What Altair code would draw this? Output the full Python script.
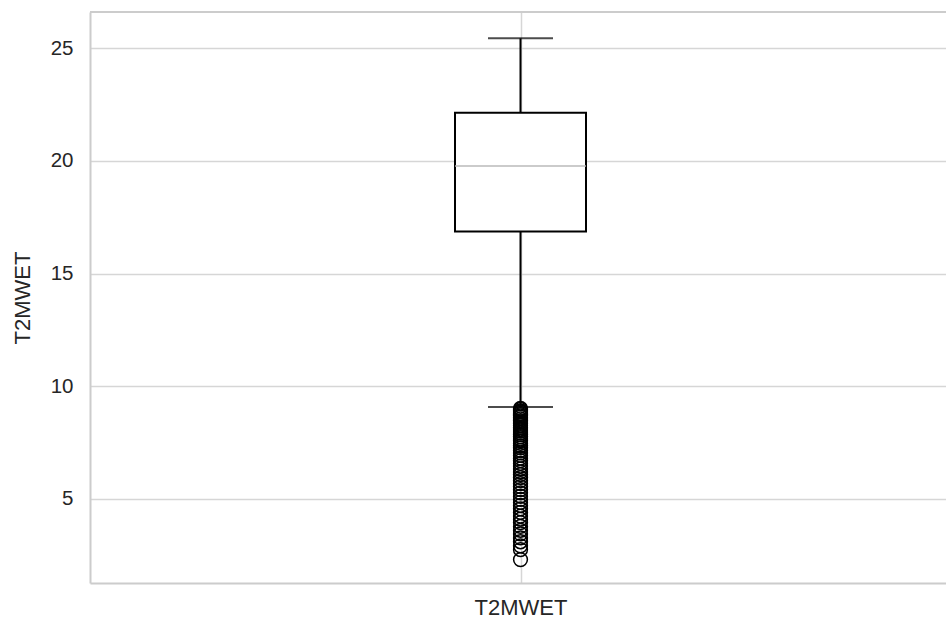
import altair as alt
import pandas as pd

# Summary of the T2MWET column
variable = ["T2MWET"]
q1 = [16.87]
median = [19.78]
q3 = [22.14]
whisker_low = [9.08]
whisker_high = [25.44]

# Values below the lower whisker
outliers = [
    9.02, 8.97, 8.91, 8.86, 8.80, 8.74, 8.69, 8.63, 8.55, 8.48,
    8.42, 8.35, 8.27, 8.18, 8.10, 8.02, 7.93, 7.85, 7.76, 7.66,
    7.58, 7.47, 7.36, 7.27, 7.15, 7.04, 6.93, 6.81, 6.70, 6.58,
    6.46, 6.33, 6.20, 6.08, 5.95, 5.81, 5.68, 5.55, 5.41, 5.27,
    5.12, 4.98, 4.85, 4.71, 4.56, 4.40, 4.24, 4.10, 3.95, 3.78,
    3.61, 3.45, 3.27, 3.10, 2.92, 2.75, 2.31,
]

summary = pd.DataFrame({
    "var": variable, "q1": q1, "median": median, "q3": q3,
    "lo": whisker_low, "hi": whisker_high,
})
out_df = pd.DataFrame({"var": variable * len(outliers), "value": outliers})

# the axes run past the right edge of the canvas, so their right side is cut off
W, H = 900, 571
FRAME = "#cccccc"

y_scale = alt.Scale(domain=[1.27, 26.61], nice=False, zero=False)
x_enc = alt.X(
    "var:N",
    scale=alt.Scale(type="point", align=430.5 / W),
    axis=alt.Axis(title=None, grid=True, labelAngle=0, ticks=False,
                  labelPadding=14, domain=True, tickExtra=False),
)

base = alt.Chart(summary).encode(x=x_enc)

whisker_lo = base.mark_rule(color="black", strokeWidth=2).encode(
    y=alt.Y("lo:Q", scale=y_scale,
            axis=alt.Axis(title="T2MWET", values=[5, 10, 15, 20, 25],
                          ticks=False, labelPadding=17, domain=True,
                          titlePadding=16)),
    y2="q1:Q",
)
whisker_hi = base.mark_rule(color="black", strokeWidth=2).encode(
    y=alt.Y("q3:Q", scale=y_scale), y2="hi:Q"
)
cap_lo = base.mark_tick(color="black", size=65, thickness=2).encode(
    y=alt.Y("lo:Q", scale=y_scale)
)
cap_hi = base.mark_tick(color="black", size=65, thickness=2).encode(
    y=alt.Y("hi:Q", scale=y_scale)
)
box = base.mark_bar(size=131, fill="white", stroke="black", strokeWidth=2).encode(
    y=alt.Y("q1:Q", scale=y_scale), y2="q3:Q"
)
med = base.mark_tick(color="#b5b5b5", size=131, thickness=2).encode(
    y=alt.Y("median:Q", scale=y_scale)
)
fliers = alt.Chart(out_df).mark_point(
    shape="circle", filled=False, color="black", size=190, strokeWidth=1.5,
    opacity=1,
).encode(x=x_enc, y=alt.Y("value:Q", scale=y_scale))

# top edge of the axes frame
top_edge = base.mark_rule(color=FRAME, strokeWidth=2).encode(
    x=alt.value(0), x2=alt.value(W), y=alt.value(0)
)

chart = (
    alt.layer(whisker_lo, whisker_hi, cap_lo, cap_hi, box, med, fliers, top_edge)
    .properties(
        width=W, height=H,
        autosize=alt.AutoSizeParams(type="none"),
        padding={"left": 90, "top": 12, "right": -44, "bottom": 42},
        background="white",
    )
    .configure_view(stroke="transparent", strokeWidth=0)
    .configure_axis(
        gridColor="#d6d6d6", gridWidth=1.5,
        domainColor=FRAME, domainWidth=2,
        labelFont="Liberation Sans", labelFontSize=20.5, labelColor="#262626",
        titleFont="Liberation Sans", titleFontSize=22, titleColor="#262626",
        titleFontWeight="normal",
    )
    .configure_axisX(labelFontSize=22)
)

chart.save("out.html", embed_options={"renderer": "svg", "actions": False})
